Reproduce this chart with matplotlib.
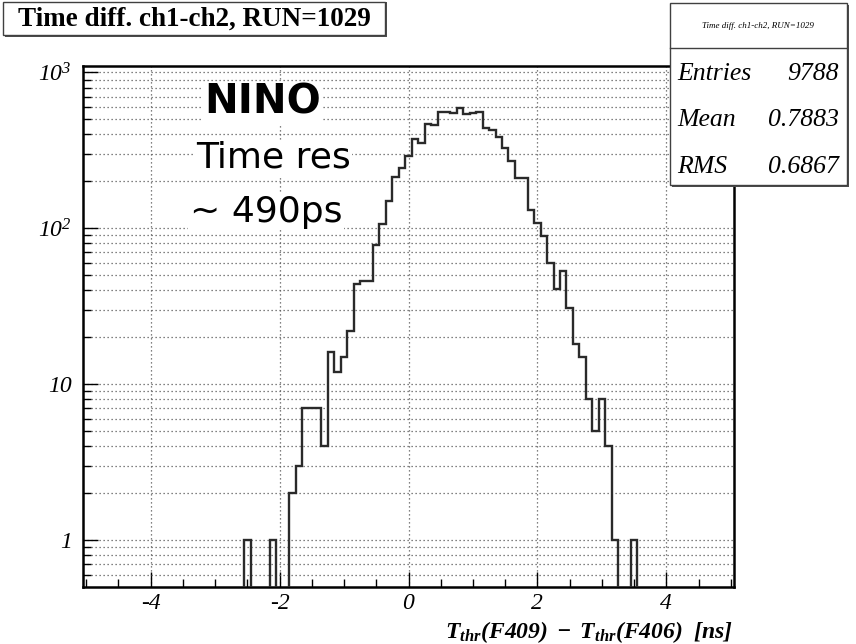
import matplotlib
matplotlib.use("Agg")
import matplotlib.pyplot as plt
import numpy as np
from matplotlib.patches import Rectangle
from matplotlib.ticker import FixedLocator, NullFormatter, MultipleLocator

# histogram: 101 bins of 0.1 ns centred on multiples of 0.1 from -5 to 5
bin_centers = np.round(np.arange(-50, 51) * 0.1, 1)
filled = {
    -2.5: 1, -2.1: 1, -1.8: 2, -1.7: 3, -1.6: 7, -1.5: 7, -1.4: 7, -1.3: 4,
    -1.2: 16, -1.1: 12, -1.0: 15, -0.9: 22, -0.8: 44, -0.7: 46, -0.6: 46,
    -0.5: 78, -0.4: 107, -0.3: 150, -0.2: 212, -0.1: 243, 0.0: 291,
    0.1: 376, 0.2: 354, 0.3: 469, 0.4: 457, 0.5: 557, 0.6: 557, 0.7: 546,
    0.8: 594, 0.9: 543, 1.0: 550, 1.1: 557, 1.2: 442, 1.3: 425, 1.4: 387,
    1.5: 329, 1.6: 270, 1.7: 211, 1.8: 211, 1.9: 132, 2.0: 108, 2.1: 89,
    2.2: 60, 2.3: 41, 2.4: 53, 2.5: 31, 2.6: 18, 2.7: 15, 2.8: 8, 2.9: 5,
    3.0: 8, 3.1: 4, 3.2: 1, 3.5: 1,
}
counts = np.array([filled.get(c, 0) for c in bin_centers], dtype=float)

title = "Time diff. ch1-ch2, RUN=1029"
stat_names = ["Entries", "Mean", "RMS"]
stat_values = ["9788", "0.7883", "0.6867"]
note_lines = ["NINO", "Time res", "~ 490ps"]
y_major = [1, 10, 100, 1000]
y_labels = ["1", "10", r"$10^{2}$", r"$10^{3}$"]
x_major = [-4, -2, 0, 2, 4]

plt.rcParams["mathtext.fontset"] = "custom"
plt.rcParams["mathtext.rm"] = "Liberation Serif:italic"
plt.rcParams["mathtext.it"] = "Liberation Serif:italic"
plt.rcParams["mathtext.bf"] = "Liberation Serif:bold:italic"

W, H = 856, 644
fig = plt.figure(figsize=(W / 100, H / 100), dpi=100)


def fx(px):
    return px / W


def fy(py):
    return 1 - py / H


ax = fig.add_axes([fx(83), fy(587), (734 - 83) / W, (587 - 66) / H])
ax.set_yscale("log")

edges = np.append(bin_centers - 0.05, bin_centers[-1] + 0.05)
drawn = np.where(counts > 0, counts, 1e-3)
ax.stairs(drawn, edges, color="#2a2a2a", lw=1.7, baseline=None, zorder=3)

ax.set_xlim(-5.05, 5.05)
ax.set_ylim(0.5, 1100)

ax.yaxis.set_major_locator(FixedLocator(y_major))
ax.set_yticklabels(y_labels)
minors = [m * 10.0 ** d for d in range(-1, 3) for m in range(2, 10)]
minors = [v for v in minors if 0.5 < v < 1100]
ax.yaxis.set_minor_locator(FixedLocator(minors))
ax.yaxis.set_minor_formatter(NullFormatter())

ax.xaxis.set_major_locator(FixedLocator(x_major))
ax.xaxis.set_minor_locator(MultipleLocator(0.5))
ax.set_xticklabels([str(v) for v in x_major])

ax.tick_params(which="major", direction="in", length=11, width=1.0,
               labelsize=17)
ax.tick_params(axis="x", which="major", pad=4)
ax.tick_params(axis="y", which="major", pad=8)
ax.tick_params(which="minor", direction="in", length=5.5, width=1.0)
ax.tick_params(top=False, right=False, which="both")
for lab in ax.get_xticklabels() + ax.get_yticklabels():
    lab.set_fontfamily("Liberation Serif")
    lab.set_fontstyle("italic")

ax.grid(which="major", axis="x", color="0.35", ls=(0, (1, 2.2)), lw=0.9)
ax.grid(which="both", axis="y", color="0.35", ls=(0, (1, 2.2)), lw=0.9)
ax.set_axisbelow(True)
for s in ax.spines.values():
    s.set_linewidth(1.8)

fig.text(fx(733), fy(632),
         r"$\mathbf{T_{thr}(F409)\ -\ T_{thr}(F406)\ \ [ns]}$",
         ha="right", va="center", fontsize=17)

# note in the upper left of the frame
note_y = [103, 158, 212]
note_x = [263, 273, 266]
note_size = [29, 26, 26]
for i, line in enumerate(note_lines):
    ax.text(fx(note_x[i]), fy(note_y[i]), line, transform=fig.transFigure,
            ha="center", va="center", fontsize=note_size[i],
            family="DejaVu Sans",
            fontweight="bold" if i == 0 else "normal", zorder=5,
            bbox=dict(facecolor="white", edgecolor="none", pad=1))

# title box with drop shadow
fig.patches.append(Rectangle((fx(5), fy(37)), fx(382), (35) / H,
                             transform=fig.transFigure, facecolor="0.3",
                             edgecolor="none", zorder=1))
fig.patches.append(Rectangle((fx(3), fy(35)), fx(382), (33) / H,
                             transform=fig.transFigure, facecolor="white",
                             edgecolor="0.25", lw=1.0, zorder=2))
fig.text(fx(194), fy(19), title, ha="center", va="center", fontsize=19.5,
         family="Liberation Serif", fontweight="bold", zorder=3)

# statistics box
fig.patches.append(Rectangle((fx(672), fy(187)), fx(177), 182 / H,
                             transform=fig.transFigure, facecolor="0.3",
                             edgecolor="none", zorder=6))
fig.patches.append(Rectangle((fx(670), fy(185)), fx(177), 182 / H,
                             transform=fig.transFigure, facecolor="white",
                             edgecolor="0.25", lw=1.0, zorder=7))
fig.add_artist(plt.Line2D([fx(670), fx(847)], [fy(48), fy(48)],
                          transform=fig.transFigure, color="0.25", lw=1.0,
                          zorder=8))
fig.text(fx(758), fy(26), title, ha="center", va="center", fontsize=6.5,
         family="Liberation Serif", style="italic", zorder=9)
stat_y = [74, 120, 167]
for name, val, yy in zip(stat_names, stat_values, stat_y):
    fig.text(fx(677), fy(yy), name, ha="left", va="center", fontsize=18.5,
             family="Liberation Serif", style="italic", zorder=9)
    fig.text(fx(839), fy(yy), val, ha="right", va="center", fontsize=18.5,
             family="Liberation Serif", style="italic", zorder=9)

fig.savefig("out.png", dpi=100)
